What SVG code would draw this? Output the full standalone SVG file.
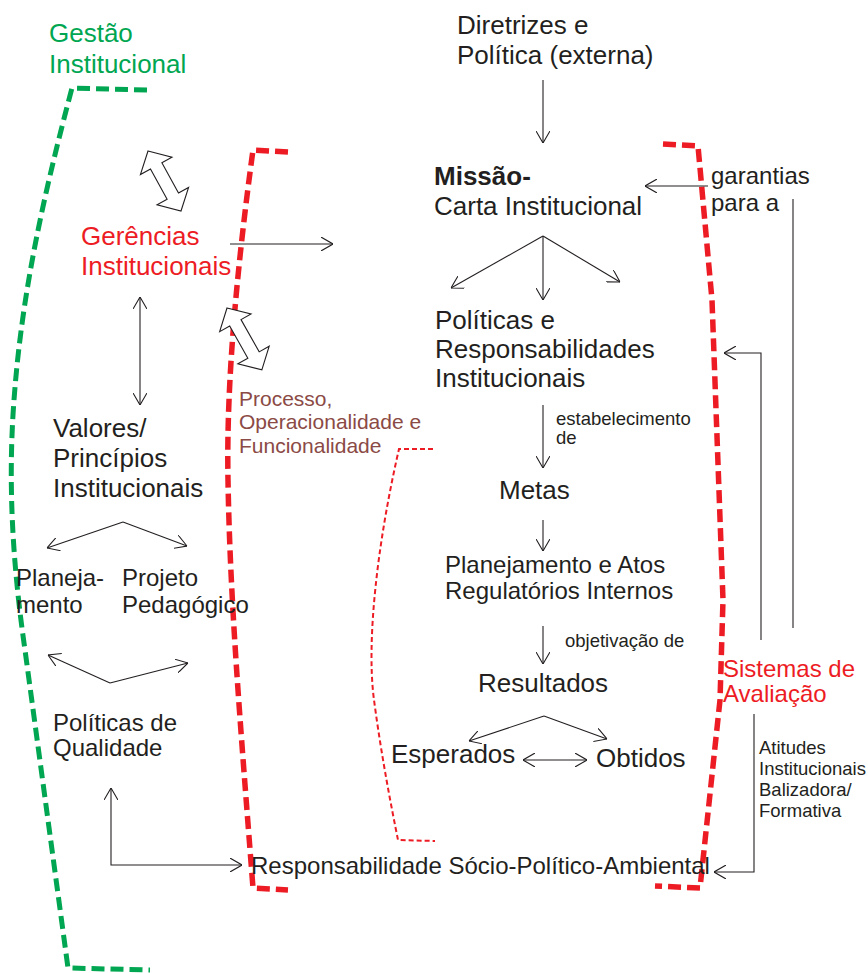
<svg xmlns="http://www.w3.org/2000/svg" width="868" height="973" viewBox="0 0 868 973">
<defs>
<style>
text{font-family:"Liberation Sans",Arial,sans-serif;fill:#231f20}
.t26{font-size:26px}
.t24{font-size:24px}
.t18{font-size:18.5px}
.red{fill:#ed1c24}
.green{fill:#00a651}
.brown{fill:#8b4a45}
.ln{fill:none;stroke:#231f20;stroke-width:1.1}
.blk{fill:#fff;stroke:#231f20;stroke-width:1.1}
.gdash{fill:none;stroke:#00a651;stroke-width:5;stroke-dasharray:13 6}
.rdash{fill:none;stroke:#ed1c24;stroke-width:5.5;stroke-dasharray:13 6}
.rthin{fill:none;stroke:#ed1c24;stroke-width:2;stroke-dasharray:5 3}
</style>
<marker id="ah" viewBox="0 0 12 14" refX="12" refY="7" markerWidth="12" markerHeight="14" markerUnits="userSpaceOnUse" orient="auto-start-reverse">
<path d="M0,0 L12,7 L0,14" fill="none" stroke="#231f20" stroke-width="1.1"/>
</marker>
</defs>
<rect width="868" height="973" fill="#fff"/>

<g id="brackets">
<path class="gdash" d="M147,90 L72,88 C45,190 22,290 14,400 C8,480 12,560 25,650 L68,968 L150,970"/>
<path class="rdash" d="M288,152 L253,150 C238,260 226,380 228,480 C230,600 240,720 253,888 L288,890"/>
<path class="rdash" d="M663,144 L698,146 L712,300 L723,600 L720,700 L700,888 L655,886"/>
<path class="rthin" d="M433,449 L399,449 C378,540 366,640 374,700 C382,760 392,810 398,840 L435,841"/>
</g>

<g id="n-gestao"><text class="t26 green" x="49" y="42">Gestão</text><text class="t26 green" x="49" y="73">Institucional</text></g>
<g id="n-gerencias"><text class="t26 red" x="81" y="245">Gerências</text><text class="t26 red" x="81" y="275">Institucionais</text></g>
<g id="n-diretrizes"><text class="t26" x="457" y="34">Diretrizes e</text><text class="t26" x="457" y="64">Política (externa)</text></g>
<g id="n-missao"><text class="t26" x="434" y="185" font-weight="bold">Missão-</text><text class="t26" x="434" y="215">Carta Institucional</text></g>
<g id="n-garantias"><text class="t24" x="711" y="184">garantias</text><text class="t24" x="711" y="211">para a</text></g>
<g id="n-politicas"><text class="t26" x="435" y="329">Políticas e</text><text class="t26" x="435" y="358">Responsabilidades</text><text class="t26" x="435" y="387">Institucionais</text></g>
<g id="n-estab"><text class="t18" x="556" y="425">estabelecimento</text><text class="t18" x="556" y="444">de</text></g>
<g id="n-metas"><text class="t26" x="499" y="499">Metas</text></g>
<g id="n-planejamento-atos"><text class="t24" x="445" y="573" font-size="23.5">Planejamento e Atos</text><text class="t24" x="445" y="599" font-size="23.5">Regulatórios Internos</text></g>
<g id="n-objetivacao"><text class="t18" x="565" y="647">objetivação de</text></g>
<g id="n-resultados"><text class="t26" x="478" y="692">Resultados</text></g>
<g id="n-esperados"><text class="t26" x="391" y="763">Esperados</text></g>
<g id="n-obtidos"><text class="t26" x="596" y="767">Obtidos</text></g>
<g id="n-responsabilidade"><text class="t24" x="251" y="874">Responsabilidade Sócio-Político-Ambiental</text></g>
<g id="n-sistemas"><text class="t24 red" x="723" y="677">Sistemas de</text><text class="t24 red" x="723" y="702">Avaliação</text></g>
<g id="n-atitudes"><text class="t18" x="759" y="754">Atitudes</text><text class="t18" x="759" y="775">Institucionais</text><text class="t18" x="759" y="796">Balizadora/</text><text class="t18" x="759" y="817">Formativa</text></g>
<g id="n-valores"><text class="t26" x="53" y="437">Valores/</text><text class="t26" x="53" y="467">Princípios</text><text class="t26" x="53" y="497">Institucionais</text></g>
<g id="n-processo"><text class="brown" font-size="21" x="239" y="406">Processo,</text><text class="brown" font-size="21" x="239" y="429">Operacionalidade e</text><text class="brown" font-size="21" x="239" y="453">Funcionalidade</text></g>
<g id="n-planejamento"><text class="t24" x="16" y="586">Planeja-</text><text class="t24" x="16" y="613">mento</text></g>
<g id="n-projeto"><text class="t24" x="122" y="586">Projeto</text><text class="t24" x="122" y="613">Pedagógico</text></g>
<g id="n-qualidade"><text class="t24" x="53" y="731">Políticas de</text><text class="t24" x="53" y="756">Qualidade</text></g>

<g id="connectors">
<polygon class="blk" transform="translate(148,151) rotate(61.2)" points="0,0 17,-18 17,-6.5 51.5,-6.5 51.5,-18 68.5,0 51.5,18 51.5,6.5 17,6.5 17,18"/>
<polygon class="blk" transform="translate(227,308) rotate(60.6)" points="0,0 17,-18 17,-6.5 54,-6.5 54,-18 71,0 54,18 54,6.5 17,6.5 17,18"/>
<line class="ln" x1="543" y1="80" x2="543" y2="143" marker-end="url(#ah)"/>
<line class="ln" x1="708" y1="186" x2="645" y2="186" marker-end="url(#ah)"/>
<line class="ln" x1="793" y1="199" x2="793" y2="628"/>
<polyline class="ln" points="761,640 761,353 724,353" marker-end="url(#ah)"/>
<polyline class="ln" points="754,714 754,872 714,872" marker-end="url(#ah)"/>
<line class="ln" x1="230" y1="244" x2="333" y2="244" marker-end="url(#ah)"/>
<line class="ln" x1="543" y1="236" x2="451" y2="288" marker-end="url(#ah)"/>
<line class="ln" x1="543" y1="236" x2="543" y2="300" marker-end="url(#ah)"/>
<line class="ln" x1="543" y1="236" x2="620" y2="282" marker-end="url(#ah)"/>
<line class="ln" x1="140" y1="297" x2="140" y2="405" marker-start="url(#ah)" marker-end="url(#ah)"/>
<line class="ln" x1="123" y1="522" x2="47" y2="548" marker-end="url(#ah)"/>
<line class="ln" x1="123" y1="522" x2="187" y2="546" marker-end="url(#ah)"/>
<line class="ln" x1="110" y1="683" x2="48" y2="655" marker-end="url(#ah)"/>
<line class="ln" x1="110" y1="683" x2="188" y2="663" marker-end="url(#ah)"/>
<polyline class="ln" points="111,788 111,865 242,865" marker-start="url(#ah)" marker-end="url(#ah)"/>
<line class="ln" x1="543" y1="405" x2="543" y2="468" marker-end="url(#ah)"/>
<line class="ln" x1="543" y1="520" x2="543" y2="551" marker-end="url(#ah)"/>
<line class="ln" x1="543" y1="626" x2="543" y2="664" marker-end="url(#ah)"/>
<line class="ln" x1="544" y1="716" x2="469" y2="741" marker-end="url(#ah)"/>
<line class="ln" x1="544" y1="716" x2="607" y2="739" marker-end="url(#ah)"/>
<line class="ln" x1="523" y1="760" x2="587" y2="760" marker-start="url(#ah)" marker-end="url(#ah)"/>
</g>
</svg>
